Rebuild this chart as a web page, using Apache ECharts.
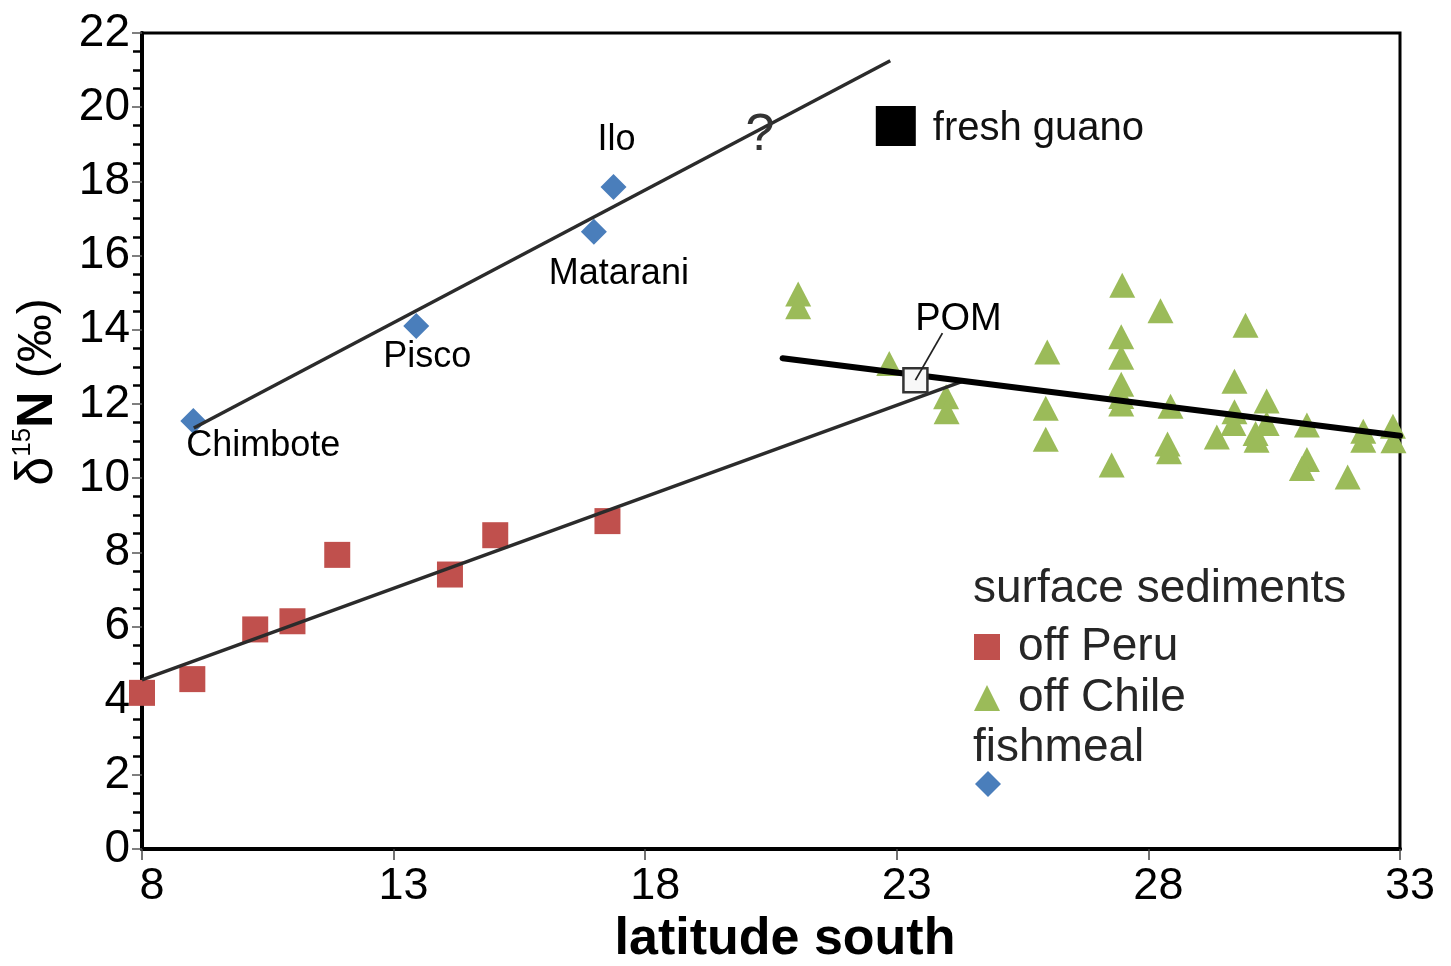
<!DOCTYPE html>
<html>
<head>
<meta charset="utf-8">
<script src="https://cdn.jsdelivr.net/npm/echarts@6/dist/echarts.min.js"></script>
<style>
  html, body { margin: 0; padding: 0; background: #fff; }
  #chart { width: 1451px; height: 966px; }
</style>
</head>
<body>
<div id="chart"></div>
<script>
// Surface sediments off Peru: latitude (°S) and δ15N (‰)
const latPeru  = [8.0, 9.0, 10.25, 10.99, 11.88, 14.12, 15.02, 17.25];
const d15nPeru = [4.21, 4.58, 5.92, 6.14, 7.93, 7.40, 8.46, 8.84];

// Surface sediments off Chile
const latChile  = [21.04, 21.04, 22.85, 23.98, 23.99, 25.99, 25.96, 25.96, 27.27, 27.48,
                   27.46, 27.46, 27.46, 27.46, 27.46, 28.24, 28.44, 28.38, 28.41, 29.36,
                   29.71, 29.71, 29.69, 29.93, 30.35, 30.35, 30.13, 30.15, 31.15, 31.15,
                   31.05, 31.96, 32.27, 32.27, 32.86, 32.87];
const d15nChile = [14.96, 14.62, 13.09, 12.19, 11.79, 13.40, 11.88, 11.05, 10.35, 15.20,
                   13.81, 13.26, 12.53, 12.20, 12.00, 14.51, 11.94, 10.92, 10.71, 11.11,
                   12.61, 11.79, 11.47, 14.12, 12.08, 11.47, 11.20, 11.02, 11.43, 10.50,
                   10.26, 10.03, 11.26, 11.02, 11.40, 11.01];

// Fishmeal from the ports
const fishmealSites = ['Chimbote', 'Pisco', 'Matarani', 'Ilo'];
const latFishmeal   = [9.02, 13.45, 16.98, 17.37];
const d15nFishmeal  = [11.54, 14.10, 16.64, 17.85];

// Trend lines (end points)
const fitFishmeal = [[9.03, 11.35], [22.87, 21.25]];
const fitPeru     = [[8.0, 4.56], [24.29, 12.60]];
const fitChile    = [[20.73, 13.23], [33.0, 11.14]];

// Single reference points
const pomPoint   = [23.37, 12.64];
const guanoPoint = [22.98, 19.49];
const questionAt = [20.28, 19.22];

// Axes
const xMin = 8, xMax = 33, xStep = 5;
const yMin = 0, yMax = 22, yStep = 2;

const FONT = '"Liberation Sans", Arial, Helvetica, sans-serif';
const RED = '#c0504d', GREEN = '#9bbb59', BLUE = '#4a7ebb';

const zip = (a, b) => a.map((v, i) => [v, b[i]]);

// label offsets for the port names (px from the diamond centre)
const siteOffsets = [[70, 25], [11, 31], [25, 42], [3, -47]];

const chart = echarts.init(document.getElementById('chart'), null, { renderer: 'canvas' });

const option = {
  animation: false,
  backgroundColor: '#fff',
  textStyle: { fontFamily: FONT },
  grid: {
    left: 142, right: 51, top: 33, bottom: 117,
    containLabel: false, outerBoundsMode: 'none',
    show: true, borderColor: '#000', borderWidth: 3, backgroundColor: 'transparent'
  },
  xAxis: {
    type: 'value', min: xMin, max: xMax, interval: xStep,
    name: 'latitude south', nameLocation: 'middle', nameGap: 64,
    nameTextStyle: { fontFamily: FONT, fontSize: 52, fontWeight: 'bold', color: '#000', padding: [0, 0, 0, 28] },
    axisLine: { show: true, onZero: false, lineStyle: { color: '#000', width: 4 } },
    axisTick: { show: true, length: 11, lineStyle: { color: '#444', width: 1.5 } },
    axisLabel: { fontFamily: FONT, fontSize: 45, color: '#000', margin: 15, padding: [0, 0, 0, 20] },
    splitLine: { show: false }
  },
  yAxis: {
    type: 'value', min: yMin, max: yMax, interval: yStep,
    axisLine: { show: true, onZero: false, lineStyle: { color: '#000', width: 4 } },
    axisTick: { show: true, length: 10, lineStyle: { color: '#555', width: 1.5 } },
    minorTick: { show: true, splitNumber: 4, length: 9, lineStyle: { color: '#000', width: 2.5 } },
    axisLabel: { fontFamily: FONT, fontSize: 46, color: '#000', margin: 12 },
    splitLine: { show: false }
  },
  legend: [
    {
      data: ['off Peru', 'off Chile'],
      orient: 'vertical', left: 969, top: 619,
      itemWidth: 26, itemHeight: 26, itemGap: 5,
      selectedMode: false,
      textStyle: { fontFamily: FONT, fontSize: 46, color: '#262626', lineHeight: 46, padding: [0, 0, 0, 13] }
    },
    {
      data: ['fishmeal'],
      orient: 'vertical', left: 970, top: 766,
      itemWidth: 26, itemHeight: 26,
      selectedMode: false,
      formatter: () => '',
      textStyle: { fontSize: 10 }
    }
  ],
  series: [
    {
      name: 'off Peru', type: 'scatter', z: 2,
      symbol: 'rect', symbolSize: 26,
      itemStyle: { color: RED, opacity: 1 },
      data: zip(latPeru, d15nPeru)
    },
    {
      name: 'off Chile', type: 'scatter', z: 2,
      symbol: 'triangle', symbolSize: [26, 25],
      itemStyle: { color: GREEN, opacity: 1 },
      data: zip(latChile, d15nChile)
    },
    {
      name: 'fishmeal', type: 'scatter', z: 2,
      symbol: 'diamond', symbolSize: 26,
      itemStyle: { color: BLUE, opacity: 1 },
      data: latFishmeal.map((v, i) => ({
        value: [v, d15nFishmeal[i]],
        name: fishmealSites[i],
        label: {
          show: true, position: 'inside', offset: siteOffsets[i],
          formatter: fishmealSites[i],
          fontFamily: FONT, fontSize: 36, color: '#000'
        }
      }))
    },
    {
      name: 'fishmeal trend', type: 'line', z: 3,
      symbol: 'none', silent: true,
      lineStyle: { color: '#2b2b2b', width: 3.5 },
      data: fitFishmeal
    },
    {
      name: 'Peru trend', type: 'line', z: 3,
      symbol: 'none', silent: true,
      lineStyle: { color: '#2b2b2b', width: 3.5 },
      data: fitPeru
    },
    {
      name: 'Chile trend', type: 'line', z: 3,
      symbol: 'none', silent: true,
      lineStyle: { color: '#000', width: 6, cap: 'round' },
      data: fitChile
    },
    {
      name: 'POM', type: 'scatter', z: 4,
      symbol: 'rect', symbolSize: 24,
      itemStyle: { color: '#f8f8f8', borderColor: '#333', borderWidth: 2.5, opacity: 1 },
      label: {
        show: true, position: 'inside', offset: [43, -61],
        formatter: 'POM', fontFamily: FONT, fontSize: 38, color: '#000'
      },
      data: [pomPoint]
    },
    {
      name: 'fresh guano', type: 'scatter', z: 4,
      symbol: 'rect', symbolSize: 40,
      itemStyle: { color: '#000', opacity: 1 },
      label: {
        show: true, position: 'right', distance: 17, offset: [0, 3],
        formatter: 'fresh guano', fontFamily: FONT, fontSize: 40, color: '#111'
      },
      data: [guanoPoint]
    }
  ]
};

chart.setOption(option);

// annotations tied to the data coordinates
const pomPx = chart.convertToPixel({ gridIndex: 0 }, pomPoint);
const qPx = chart.convertToPixel({ gridIndex: 0 }, questionAt);

chart.setOption({
  graphic: [
    {
      type: 'line', z: 10,
      shape: { x1: pomPx[0], y1: pomPx[1], x2: pomPx[0] + 27, y2: pomPx[1] - 47 },
      style: { stroke: '#222', lineWidth: 1.8 }
    },
    {
      type: 'text', z: 10, x: qPx[0], y: qPx[1],
      style: { text: '?', font: '52px ' + FONT, fill: '#333', align: 'center', verticalAlign: 'middle' }
    },
    {
      type: 'text', z: 10, x: 973, y: 589,
      style: { text: 'surface sediments', font: '46px ' + FONT, fill: '#262626', align: 'left', verticalAlign: 'middle' }
    },
    {
      type: 'text', z: 10, x: 973, y: 748,
      style: { text: 'fishmeal', font: '46px ' + FONT, fill: '#262626', align: 'left', verticalAlign: 'middle' }
    },
    {
      type: 'text', z: 10, x: 38, y: 392, rotation: Math.PI / 2,
      style: {
        text: '{d|δ}{s|15}{n|N}{p| (‰)}',
        align: 'center', verticalAlign: 'middle',
        rich: {
          d: { fontFamily: FONT, fontSize: 52, color: '#000', lineHeight: 56 },
          s: { fontFamily: FONT, fontSize: 26, color: '#000', verticalAlign: 'top', lineHeight: 56 },
          n: { fontFamily: FONT, fontSize: 50, fontWeight: 'bold', color: '#000', lineHeight: 56 },
          p: { fontFamily: FONT, fontSize: 48, color: '#000', lineHeight: 56 }
        }
      }
    }
  ]
});
</script>
</body>
</html>
